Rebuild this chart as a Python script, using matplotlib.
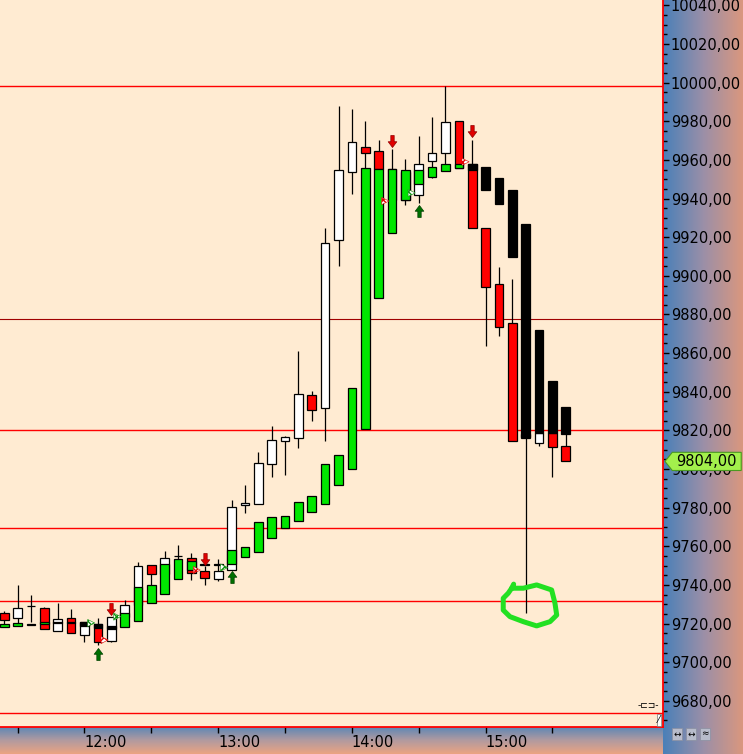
import numpy as np
import matplotlib
matplotlib.use('Agg')
import matplotlib.pyplot as plt
from matplotlib import transforms
from matplotlib.patches import Polygon
from matplotlib.path import Path
from matplotlib.colors import LinearSegmentedColormap

# 6-minute bars, bar 0 = 11:24
reg_open = [9725.5, 9723, 9729, 9728, 9716.5, 9723, 9714, 9720, 9711, 9723.5,
            9729.5, 9750.5, 9745.5, 9755, 9754, 9747.5, 9743, 9748, 9781.5, 9782,
            9802.5, 9814.5, 9816, 9838.5, 9831.5, 9918.5, 9953.5, 9966.5, 9964.5, 9955.5,
            9939, 9942, 9959.5, 9963.5, 9980, 9958, 9924.5, 9896, 9875.5, 9816,
            9813.5, 9818.5, 9812]
reg_high = [9726.5, 9740, 9735, 9728.5, 9731, 9727.5, 9721, 9723, 9723.5, 9732.5,
            9752, 9750.5, 9757.5, 9760.5, 9756.5, 9750, 9753.5, 9784, 9792, 9809,
            9822.5, 9817, 9861, 9840.5, 9924.5, 9988, 9986.5, 9980, 9970.5, 9965.5,
            9960.5, 9972.5, 9982, 9998, 9980, 9970.5, 9924.5, 9904.5, 9898.5, 9822,
            9818.5, 9818.5, 9818]
reg_low = [9720, 9720.5, 9721, 9717.5, 9716.5, 9715, 9710.5, 9709, 9710.5, 9723,
           9729.5, 9740, 9745.5, 9753.5, 9742.5, 9740, 9742, 9748, 9777.5, 9782,
           9796, 9797, 9811, 9825, 9814.5, 9905, 9942.5, 9956, 9955, 9936.5,
           9936.5, 9937.5, 9950.5, 9958, 9956, 9925, 9863.5, 9869, 9814.5, 9725.5,
           9812, 9796, 9804]
reg_close = [9722, 9728, 9729, 9717.5, 9722.5, 9715, 9721, 9710.5, 9723.5, 9729.5,
             9750, 9745.5, 9754, 9755, 9746.5, 9743.5, 9747.5, 9780.5, 9782.5, 9803,
             9815, 9816.5, 9839, 9830.5, 9917, 9955, 9969, 9963.5, 9955.5, 9939,
             9953.5, 9958, 9963.5, 9979.5, 9956, 9925, 9894, 9873.5, 9814.5, 9818,
             9818.5, 9811.5, 9804]

# second (green/black) candle series, bodies only
alt_open = [9718.5, 9719, 9720, 9720, 9721, 9721, 9721, 9720, 9719, 9718.5,
            9721.5, 9730.5, 9735.5, 9743, 9748, 9751, 9751, 9751, 9754.5, 9757,
            9764.5, 9769.5, 9773, 9778, 9782, 9792, 9800, 9821, 9888.5, 9922,
            9939, 9947.5, 9951, 9954, 9956, 9958, 9956.5, 9950.5, 9944.5, 9927,
            9872, 9845.5, 9832]
alt_close = [9720, 9720.5, 9719.5, 9721, 9720.5, 9720.5, 9719, 9718, 9717.5, 9725.5,
             9739, 9740, 9751, 9753.5, 9752.5, 9750.5, 9750.5, 9758, 9759.5, 9772.5,
             9775, 9776, 9783, 9786, 9802.5, 9807.5, 9842, 9956, 9955.5, 9955.5,
             9955, 9955, 9956.5, 9958, 9958, 9954.5, 9944.5, 9937, 9910, 9816.5,
             9818.5, 9818.5, 9818]

levels = [9998, 9820.5, 9769.5, 9732, 9674]
level_dark = 9877.5

sell_bars = [8, 15, 29, 35]
sell_y = [9727.6, 9753.5, 9969.7, 9974.9]
buy_bars = [7, 17, 31]
buy_y = [9704.6, 9744.4, 9933.3]

red_chk_x = [7.5, 14.4, 28.5, 34.5]
red_chk_y = [9711.6, 9747.8, 9938.7, 9959.0]
grn_chk_x = [6.5, 8.45, 16.45, 30.47]
grn_chk_y = [9720.4, 9723.7, 9749.1, 9942.9]

circle_x = [37.95, 38.82, 39.82, 40.94, 41.19, 41.32, 40.82, 39.82, 38.82, 37.82,
            37.32, 37.32, 37.69, 37.95, 38.1]
circle_y = [9738.4, 9738.4, 9740.1, 9737.5, 9730.6, 9724.5, 9721.1, 9718.9, 9721.1, 9723.7,
            9727.1, 9733.2, 9735.8, 9738.4, 9740.5]

time_ticks = [1, 6, 11, 16, 21, 26, 31, 36, 41]
time_labels = ['', '12:00', '', '13:00', '', '14:00', '', '15:00', '']

W, H = 743, 754
fig = plt.figure(figsize=(W / 100, H / 100), dpi=100)

# background panels
rbg = fig.add_axes([663 / W, 0, 80 / W, 1])
cm_r = LinearSegmentedColormap.from_list('r', ['#4b80b8', '#9a8fa8', '#d9977f'])
rbg.imshow(np.linspace(0, 1, 64).reshape(1, -1), cmap=cm_r, aspect='auto', extent=[0, 1, 0, 1])
rbg.axis('off')
bbg = fig.add_axes([0, 0, 663 / W, 27 / H])
cm_b = LinearSegmentedColormap.from_list('b', ['#5a86b6', '#b09aa0', '#eaa382'])
bbg.imshow(np.linspace(0, 1, 32).reshape(-1, 1), cmap=cm_b, aspect='auto', extent=[0, 1, 0, 1])
bbg.axis('off')

ax = fig.add_axes([0, 27 / H, 663 / W, 727 / H])
ax.set_zorder(3)
ax.set_facecolor('#ffebd2')

x = np.arange(len(reg_open))
ro, rh, rl, rc = map(np.array, (reg_open, reg_high, reg_low, reg_close))
ao, ac = np.array(alt_open), np.array(alt_close)

for lv in levels:
    ax.axhline(lv, color='#ff0000', lw=1.0, zorder=1)
ax.axhline(level_dark, color='#a00000', lw=0.8, zorder=1)

ax.vlines(x, rl, rh, color='black', lw=0.9, zorder=3)
rcol = np.where(rc >= ro, 'white', '#ff0000')
ax.bar(x, rc - ro, bottom=ro, width=0.65, color=rcol, edgecolor='black', linewidth=0.9, zorder=4)
acol = np.where(ac >= ao, '#00e600', 'black')
ax.bar(x, ac - ao, bottom=ao, width=0.65, color=acol, edgecolor='black', linewidth=0.9, zorder=5)

# block arrow markers
up_arrow = Path([(-0.14, -0.5), (0.14, -0.5), (0.14, 0.02), (0.36, 0.02), (0.0, 0.5),
                 (-0.36, 0.02), (-0.14, 0.02), (-0.14, -0.5)], closed=True)
down_arrow = Path([(vx, -vy) for vx, vy in up_arrow.vertices], closed=True)
ax.scatter(sell_bars, sell_y, marker=down_arrow, s=75, facecolor='#e00000',
           edgecolor='#900000', linewidths=0.5, zorder=6)
ax.scatter(buy_bars, buy_y, marker=up_arrow, s=75, facecolor='#007000',
           edgecolor='#004000', linewidths=0.5, zorder=6)

ax.scatter(red_chk_x, red_chk_y, marker='>', s=26, facecolor='white', edgecolor='#e00000',
           hatch='xxxx', linewidths=0.4, zorder=6)
ax.scatter(grn_chk_x, grn_chk_y, marker='>', s=26, facecolor='white', edgecolor='#109010',
           hatch='xxxx', linewidths=0.4, zorder=6)

ax.plot(circle_x, circle_y, color='#22e022', lw=3.6, solid_capstyle='round',
        solid_joinstyle='round', zorder=7)

ax.set_xlim(-0.32, 49.27)
ax.set_ylim(9666.6, 10042.7)

ax.yaxis.tick_right()
yt = np.arange(9680, 10041, 20)
ax.set_yticks(yt)
ax.set_yticklabels([f'{v:.2f}'.replace('.', ',') for v in yt])
ax.set_yticks(np.arange(9670, 10041, 5), minor=True)
ax.tick_params(axis='y', which='major', length=4, width=1, pad=1.5, labelsize=10.5)
ax.tick_params(axis='y', which='minor', length=3, width=1)

ax.set_xticks(time_ticks)
ax.set_xticklabels(time_labels, ha='left')
ax.tick_params(axis='x', length=4, width=1, pad=1.5, labelsize=10.5)

for s in ('left', 'top'):
    ax.spines[s].set_visible(False)
for s in ('right', 'bottom'):
    ax.spines[s].set_color('#ff0000')
    ax.spines[s].set_linewidth(1.3)

# last price tag
last = reg_close[-1]
tr = transforms.blended_transform_factory(ax.transAxes, ax.transData)
tag = Polygon([(1.003, last), (1.014, last + 4.7), (1.118, last + 4.7),
               (1.118, last - 4.7), (1.014, last - 4.7)],
              closed=True, transform=tr, clip_on=False, facecolor='#a3f04c',
              edgecolor='#4a9a20', lw=0.8, zorder=10)
ax.add_patch(tag)
ax.text(1.02, last, f'{last:.2f}'.replace('.', ','), transform=tr, va='center', ha='left',
        fontsize=10.5, zorder=11, clip_on=False)

# small toolbar icons
fig.text(648 / W, 1 - 706 / H, '-⊏⊐-', fontsize=6.5, ha='center', va='center', zorder=20)
fig.text(659 / W, 1 - 720 / H, '⁄', fontsize=7, ha='center', va='center', zorder=20,
         bbox=dict(boxstyle='square,pad=0.1', fc='white', ec='#777777', lw=0.5))
for px, s in zip([677, 691, 705], ['↔', '↔', '≈']):
    fig.text(px / W, 1 - 734 / H, s, fontsize=6.5, ha='center', va='center', zorder=20,
             bbox=dict(boxstyle='square,pad=0.15', fc='#b8bccb', ec='#8a8fa0', lw=0.5))

fig.savefig('out.png', dpi=100)
